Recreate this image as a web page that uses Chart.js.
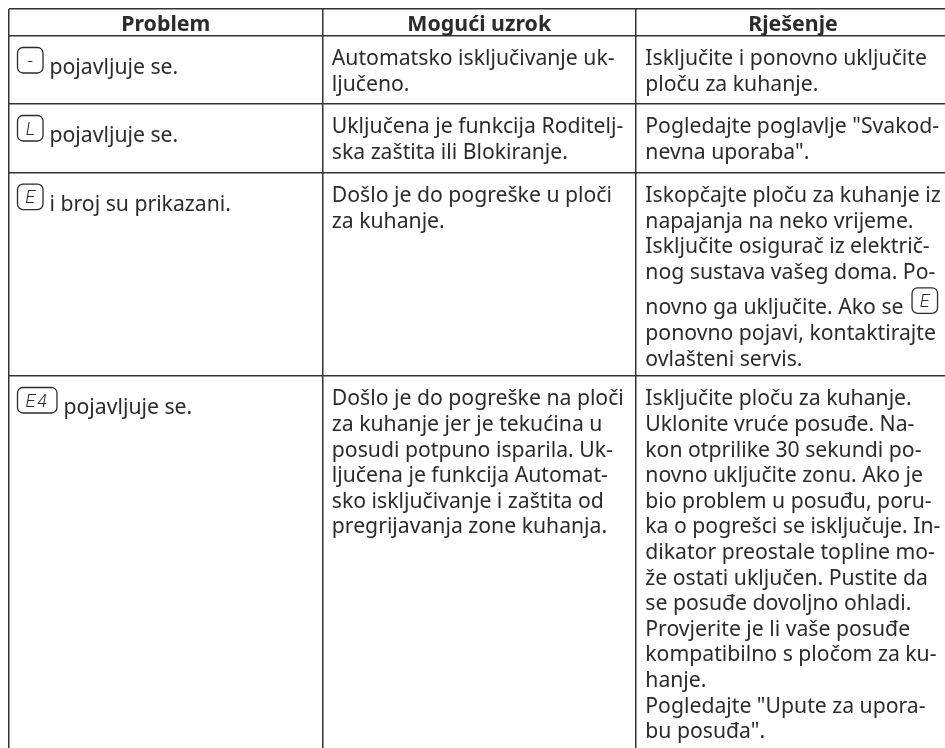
<!DOCTYPE html>
<html>
<head>
<meta charset="utf-8">
<style>
  html, body { margin: 0; background: #fff; }
  canvas { display: block; }
</style>
<script src="https://cdn.jsdelivr.net/npm/chart.js@4"></script>
</head>
<body>
<canvas id="tablica" width="945" height="748"></canvas>
<script>
const headers = ['Problem', 'Mogući uzrok', 'Rješenje'];
// last edge lies past the crop of the page, so no right border is visible
const columnEdges = [0, 313.5, 627, 941];
const rowEdges = [0, 27, 95, 163.6, 367];

// [x] marks a display icon inside a line
const problems = [
  ['[-] pojavljuje se.'],
  ['[L] pojavljuje se.'],
  ['[E] i broj su prikazani.'],
  ['[E4] pojavljuje se.']
];
const causes = [
  ['Automatsko isključivanje uk-', 'ljučeno.'],
  ['Uključena je funkcija Roditelj-', 'ska zaštita ili Blokiranje.'],
  ['Došlo je do pogreške u ploči', 'za kuhanje.'],
  ['Došlo je do pogreške na ploči', 'za kuhanje jer je tekućina u', 'posudi potpuno isparila. Uk-', 'ljučena je funkcija Automat-', 'sko isključivanje i zaštita od', 'pregrijavanja zone kuhanja.']
];
const solutions = [
  ['Isključite i ponovno uključite', 'ploču za kuhanje.'],
  ['Pogledajte poglavlje "Svakod-', 'nevna uporaba".'],
  ['Iskopčajte ploču za kuhanje iz', 'napajanja na neko vrijeme.', 'Isključite osigurač iz električ-', 'nog sustava vašeg doma. Po-', 'novno ga uključite. Ako se [E]', 'ponovno pojavi, kontaktirajte', 'ovlašteni servis.'],
  ['Isključite ploču za kuhanje.', 'Uklonite vruće posuđe. Na-', 'kon otprilike 30 sekundi po-', 'novno uključite zonu. Ako je', 'bio problem u posuđu, poru-', 'ka o pogrešci se isključuje. In-', 'dikator preostale topline mo-', 'že ostati uključen. Pustite da', 'se posuđe dovoljno ohladi.', 'Provjerite je li vaše posuđe', 'kompatibilno s pločom za ku-', 'hanje.', 'Pogledajte "Upute za upora-', 'bu posuđa".']
];
const columns = [problems, causes, solutions];

const textColor = '#2b2b2b';
const bodyFont = '21.2px "Noto Sans"';
const headFont = 'bold 21.33px "Noto Sans"';
const lineHeight = 25.6;

function drawIcon(ctx, label, x, baseline) {
  const w = label.length > 1 ? 39.5 : 25.5;
  ctx.strokeStyle = textColor;
  ctx.lineWidth = 1.3;
  ctx.beginPath();
  ctx.roundRect(x, baseline - 26.5, w, 25.5, 5.5);
  ctx.stroke();
  ctx.font = 'italic 300 18px Roboto';
  ctx.letterSpacing = label.length > 1 ? '2px' : '0px';
  ctx.textAlign = 'center';
  ctx.fillText(label, x + w / 2, baseline - 7.5);
  ctx.textAlign = 'left';
  ctx.letterSpacing = '0px';
  ctx.font = bodyFont;
  return w + 6.5;
}

function drawLine(ctx, line, x, baseline) {
  let cx = x;
  line.split(/(\[[^\]]+\])/).forEach(part => {
    if (!part) return;
    if (part[0] === '[') {
      cx += drawIcon(ctx, part.slice(1, -1), cx, baseline);
    } else {
      ctx.fillText(part.trim(), cx, baseline);
      cx += ctx.measureText(part.trim() + ' ').width + 3;
    }
  });
}

const tablePlugin = {
  id: 'tablePlugin',
  afterDraw(chart) {
    const { ctx, scales: { x, y } } = chart;
    ctx.save();
    ctx.fillStyle = textColor;
    ctx.textBaseline = 'alphabetic';

    ctx.font = headFont;
    ctx.textAlign = 'center';
    headers.forEach((h, i) => {
      ctx.fillText(h, (x.getPixelForValue(columnEdges[i]) + x.getPixelForValue(columnEdges[i + 1])) / 2, y.getPixelForValue(21.7));
    });

    ctx.font = bodyFont;
    ctx.textAlign = 'left';
    columns.forEach((rows, c) => {
      const left = x.getPixelForValue(columnEdges[c]);
      rows.forEach((lines, r) => {
        const top = y.getPixelForValue(rowEdges[r + 1]);
        let baseline = top + (c === 0 ? 38 : 29.3);
        lines.forEach(line => {
          // an inline icon pushes its line down
          if (c > 0 && line.includes('[')) baseline += 10;
          drawLine(ctx, line, left + (c === 0 ? 8.5 : 9.3), baseline);
          baseline += lineHeight;
        });
      });
    });
    ctx.restore();
  }
};

new Chart(document.getElementById('tablica'), {
  type: 'scatter',
  data: { datasets: [] },
  plugins: [tablePlugin],
  options: {
    responsive: false,
    animation: false,
    layout: { padding: { left: 9, top: 9, right: 0, bottom: 0 } },
    plugins: { legend: { display: false }, tooltip: { enabled: false } },
    scales: {
      x: {
        type: 'linear',
        min: 0,
        max: 936,
        afterBuildTicks: s => { s.ticks = columnEdges.slice(0, -1).map(value => ({ value })); },
        ticks: { display: false },
        border: { display: false },
        grid: { color: '#333', lineWidth: 1.5, drawTicks: false }
      },
      y: {
        type: 'linear',
        reverse: true,
        min: 0,
        max: 739,
        afterBuildTicks: s => { s.ticks = rowEdges.map(value => ({ value })); },
        ticks: { display: false },
        border: { display: false },
        grid: { color: '#333', lineWidth: 1.5, drawTicks: false }
      }
    }
  }
});
</script>
</body>
</html>
